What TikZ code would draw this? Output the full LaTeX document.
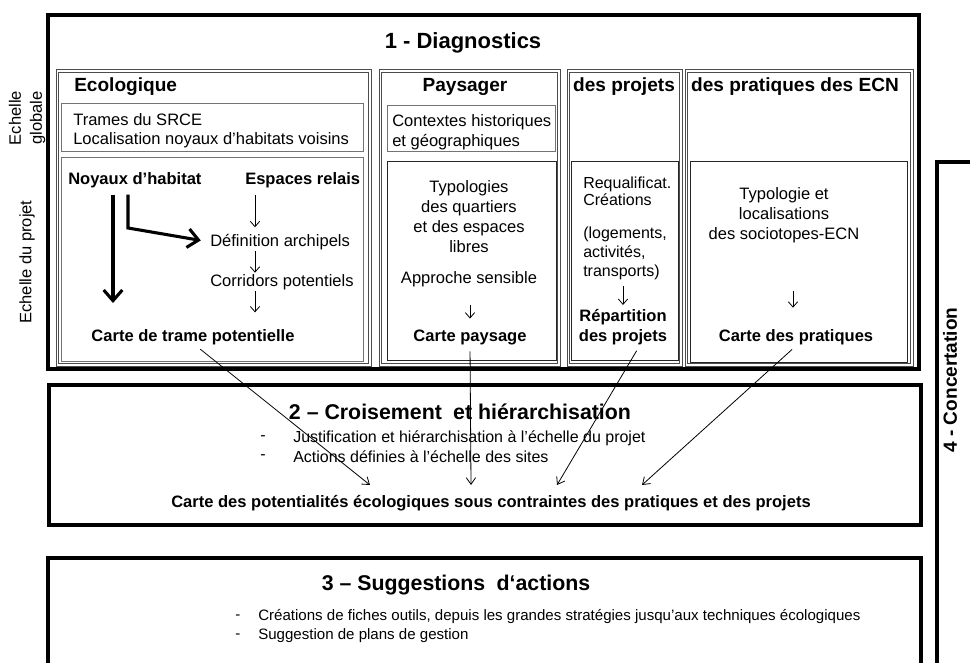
\documentclass[tikz,border=0pt]{standalone}
\usepackage{fontspec}
\setmainfont{Liberation Sans}
\usetikzlibrary{arrows.meta,calc}
\newcommand{\ftxt}{\fontsize{12.4pt}{15pt}\selectfont}
\newcommand{\fhead}{\fontsize{14.3pt}{17pt}\selectfont\bfseries}
\newcommand{\ftitle}{\fontsize{16.5pt}{20pt}\selectfont\bfseries}
\newcommand{\fbig}{\fontsize{16pt}{19pt}\selectfont\bfseries}

\begin{document}
\begin{tikzpicture}[x=0.75pt,y=-0.75pt,
    every node/.style={inner sep=0pt,font=\ftxt},
    bigbox/.style={draw,line width=3pt},
    colbox/.style={draw=black!70,line width=0.75pt},
    subbox/.style={draw=black!55,line width=0.75pt},
    subboxd/.style={draw=black!85,line width=0.75pt},
    sarr/.style={-{Straight Barb[length=4pt,width=7pt]},line width=0.6pt},
    barr/.style={-{Straight Barb[length=8pt,width=14pt]},line width=2.3pt},
    link/.style={-{Straight Barb[length=5pt,width=7pt]},line width=0.6pt}]
  \useasboundingbox (0,0) rectangle (970,663);
  \clip (0,0) rectangle (970,663);

  %outer boxes
  \draw[bigbox] (48,15) rectangle (919,369);
  \draw[bigbox] (49,385) rectangle (921,525);
  \draw[bigbox] (48,558) rectangle (921,720);
  \draw[bigbox] (937,162) rectangle (1010,720);

  %columns of the diagnostics (double frame)
  \foreach \xa/\xb in {56/371,379/560,567/682,685/913} {
    \draw[colbox] (\xa,70) rectangle (\xb,366);
    \draw[colbox] (\xa+2.5,72.5) rectangle (\xb-2.5,363.5);
  }
  \draw[subbox] (61,104) rectangle (363,152);
  \draw[subbox] (61,158) rectangle (363,361);
  \draw[subbox] (387,106) rectangle (555,152);
  \draw[subboxd] (387,162) rectangle (556,360);
  \draw[subboxd] (571,162) rectangle (678,360);
  \draw[subboxd] (690,162) rectangle (907,362);

  %scales on the left
  \node[rotate=90,align=center,font=\fontsize{12.4pt}{15.75pt}\selectfont] (glob) at (27,118) {Echelle\\globale};
  \node[rotate=90] (locp) at (27,262) {Echelle du projet};

  %1 - diagnostics
  \node[font=\ftitle] (diag) at (463,43) {1 - Diagnostics};

  %ecologique
  \node[font=\fhead,anchor=west] (ecol) at (74,87) {Ecologique};
  \node[anchor=west] (srce) at (73,120) {Trames du SRCE};
  \node[anchor=west] (voisins) at (73,140) {Localisation noyaux d’habitats voisins};
  \node[font=\ftxt\bfseries,anchor=west] (noyaux) at (68,180) {Noyaux d’habitat};
  \node[font=\ftxt\bfseries,anchor=west] (relais) at (245,180) {Espaces relais};
  \node[anchor=west] (archi) at (210,242) {Définition archipels};
  \node[anchor=west] (corri) at (210,282) {Corridors potentiels};
  \node[font=\ftxt\bfseries] (tramepot) at (193,337) {Carte de trame potentielle};
  \coordinate (ax) at (255,0);
  \coordinate (bend) at (128,228);
  \coordinate (tkend) at (113,303);
  \draw[sarr,shorten <=5pt,shorten >=5pt] (relais.south -| ax) -- (archi.north -| ax);
  \draw[sarr,shorten <=1pt,shorten >=1pt] (archi.south -| ax) -- (corri.north -| ax);
  \draw[sarr,shorten <=1pt,shorten >=12.5pt] (corri.south -| ax) -- (tramepot.north -| ax);
  \draw[barr,shorten <=5pt] (noyaux.south -| tkend) -- (tkend);
  \draw[barr,shorten <=5pt,shorten >=7pt] (noyaux.south -| bend) -- (bend) -- (archi.west);

  %paysager
  \node[font=\fhead] (pays) at (465,87) {Paysager};
  \node[anchor=west] (histo) at (392,122) {Contextes historiques};
  \node[anchor=west] (geo) at (392,142) {et géographiques};
  \node[align=center] (typo) at (469,216.5) {Typologies\\des quartiers\\et des espaces\\libres};
  \node (approche) at (469,279) {Approche sensible};
  \node[font=\ftxt\bfseries] (cartepays) at (470,337) {Carte paysage};
  \draw[sarr,shorten <=13.5pt,shorten >=8pt] (approche.south -| cartepays.north) -- (cartepays.north);

  %des projets
  \node[font=\fhead] (proj) at (624,87) {des projets};
  \node[align=left,anchor=north west,font=\fontsize{12pt}{10.5pt}\selectfont] (requal) at (583,177) {Requalificat.\\Créations};
  \node[align=left,anchor=north west,font=\fontsize{12pt}{14pt}\selectfont] (logt) at (583,227) {(logements,\\activités,\\transports)};
  \node[align=center,font=\fontsize{12.4pt}{15pt}\selectfont\bfseries] (repart) at (623,327) {Répartition\\des projets};
  \draw[sarr,shorten <=5pt,shorten >=3pt] (logt.south -| repart.north) -- (repart.north);

  %des pratiques des ECN
  \node[font=\fhead] (prat) at (795,87) {des pratiques des ECN};
  \node[align=center] (socio) at (784,215) {Typologie et\\localisations\\des sociotopes-ECN};
  \node[font=\ftxt\bfseries] (cartepra) at (796,337) {Carte des pratiques};
  \draw[sarr,shorten <=36pt,shorten >=16pt] (socio.south -| 793,0) -- (cartepra.north -| 793,0);

  %2 - croisement
  \node[font=\fbig] (crois) at (460,412) {2 – Croisement\hspace{4pt} et hiérarchisation};
  \node[font=\fontsize{12pt}{14pt}\selectfont] (tir1) at (263,438) {-};
  \node[font=\fontsize{12pt}{14pt}\selectfont] (tir2) at (263,457) {-};
  \node[anchor=west,font=\fontsize{12pt}{14pt}\selectfont] (justif) at (293,438) {Justification et hiérarchisation à l’échelle du projet};
  \node[anchor=west,font=\fontsize{12pt}{14pt}\selectfont] (sites) at (293,457) {Actions définies à l’échelle des sites};
  \node[font=\ftxt\bfseries] (cpe) at (491,503) {Carte des potentialités écologiques sous contraintes des pratiques et des projets};
  \coordinate (t1) at (370,485);
  \coordinate (t2) at (471,485);
  \coordinate (t3) at (557,485);
  \coordinate (t4) at (642,485);
  \draw[link,shorten <=5pt] ($(tramepot.south)+(2,0)$) -- (t1);
  \draw[link,shorten <=5pt] (cartepays.south) -- (t2);
  \draw[link,shorten <=5pt] ($(repart.south)+(17,0)$) -- (t3);
  \draw[link,shorten <=5pt] ($(cartepra.south)+(1,0)$) -- (t4);

  %3 - suggestions
  \node[font=\fbig] (sugg) at (456,585) {3 – Suggestions\hspace{4pt} d‘actions};
  \node[font=\fontsize{11.3pt}{14pt}\selectfont] (tir3) at (238,617) {-};
  \node[font=\fontsize{11.3pt}{14pt}\selectfont] (tir4) at (238,636) {-};
  \node[anchor=west,font=\fontsize{11.3pt}{14pt}\selectfont] (fiches) at (258,617) {Créations de fiches outils, depuis les grandes stratégies jusqu’aux techniques écologiques};
  \node[anchor=west,font=\fontsize{11.3pt}{14pt}\selectfont] (gestion) at (258,636) {Suggestion de plans de gestion};

  %4 - concertation
  \node[rotate=90,font=\fhead] (concert) at (950,380) {4 - Concertation};
\end{tikzpicture}
\end{document}
